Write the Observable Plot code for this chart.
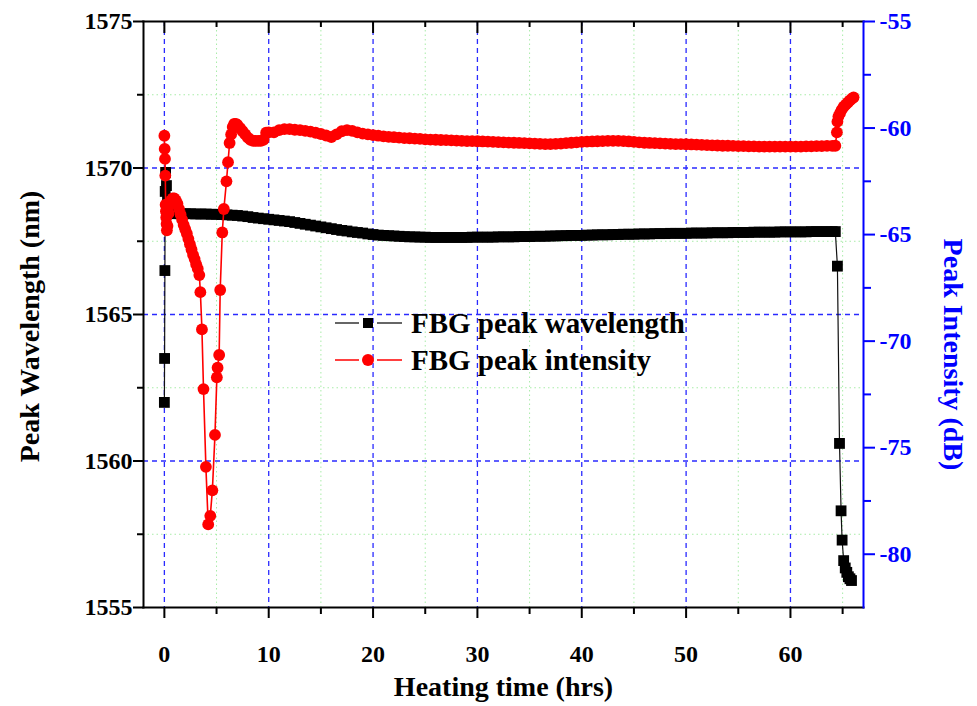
<!DOCTYPE html>
<html><head><meta charset="utf-8">
<script src="https://cdn.jsdelivr.net/npm/d3@7"></script>
<script src="https://cdn.jsdelivr.net/npm/@observablehq/plot@0.6"></script>
<style>
body{margin:0;background:#fff;}
#wrap{position:relative;width:977px;height:706px;}
#legend{position:absolute;left:0;top:0;width:977px;height:706px;pointer-events:none;}
</style>
</head><body><div id="wrap"><div id="chart"></div><svg id="legend" width="977" height="706"></svg></div>
<script>
// ---- data ----
const wavelengthHours = [0,0.02,0.05,0.08,0.12,0.2,0.3,0.42,0.6,0.8,
1,1.5,2,2.5,3,3.5,4,4.5,5,5.5,6,6.5,7,7.5,8,8.5,9,9.5,10,10.5,11,11.5,12,12.5,13,13.5,14,14.5,15,15.5,16,16.5,17,17.5,18,18.5,19,19.5,20,20.5,21,21.5,22,22.5,23,23.5,24,24.5,25,25.5,26,26.5,27,27.5,28,28.5,29,29.5,30,30.5,31,31.5,32,32.5,33,33.5,34,34.5,35,35.5,36,36.5,37,37.5,38,38.5,39,39.5,40,40.5,41,41.5,42,42.5,43,43.5,44,44.5,45,45.5,46,46.5,47,47.5,48,48.5,49,49.5,50,50.5,51,51.5,52,52.5,53,53.5,54,54.5,55,55.5,56,56.5,57,57.5,58,58.5,59,59.5,60,60.5,61,61.5,62,62.5,63,63.5,64,64.3,
64.5,64.7,64.85,64.95,65.1,65.25,65.4,65.55,65.7,65.85];
const wavelengthNm = [1562.0,1563.5,1566.5,1569.2,1569.85,1569.4,1568.9,1568.6,1568.47,1568.45,
1568.44,1568.44,1568.44,1568.44,1568.43,1568.43,1568.43,1568.42,1568.42,1568.41,1568.40,1568.39,1568.38,1568.36,1568.34,1568.31,1568.29,1568.27,1568.25,1568.23,1568.21,1568.19,1568.17,1568.14,1568.11,1568.08,1568.05,1568.02,1567.99,1567.96,1567.93,1567.90,1567.87,1567.85,1567.82,1567.80,1567.78,1567.75,1567.73,1567.71,1567.70,1567.69,1567.68,1567.67,1567.66,1567.65,1567.65,1567.64,1567.64,1567.63,1567.63,1567.63,1567.63,1567.63,1567.63,1567.63,1567.63,1567.64,1567.64,1567.64,1567.64,1567.64,1567.65,1567.65,1567.65,1567.65,1567.66,1567.66,1567.66,1567.67,1567.67,1567.67,1567.68,1567.68,1567.69,1567.69,1567.70,1567.70,1567.70,1567.71,1567.71,1567.72,1567.72,1567.72,1567.73,1567.73,1567.74,1567.74,1567.74,1567.75,1567.75,1567.75,1567.76,1567.76,1567.76,1567.77,1567.77,1567.77,1567.77,1567.78,1567.78,1567.78,1567.78,1567.79,1567.79,1567.79,1567.79,1567.80,1567.80,1567.80,1567.80,1567.81,1567.81,1567.81,1567.81,1567.81,1567.82,1567.82,1567.82,1567.82,1567.82,1567.82,1567.83,1567.83,1567.83,1567.83,1567.83,1567.83,
1566.65,1560.6,1558.3,1557.3,1556.6,1556.35,1556.2,1556.05,1555.98,1555.92];

const intensityHours = [0,0.03,0.06,0.09,0.12,0.15,0.18,0.21,0.24,0.3,0.4,0.5,0.65,0.8,0.95,1.1,1.25,1.4,1.55,1.7,1.85,2,2.15,2.3,2.45,2.6,2.75,2.9,3.05,3.2,3.35,3.45,3.6,3.75,3.98,4.2,4.4,4.6,4.85,5.03,5.1,5.25,5.35,5.55,5.7,5.95,6.1,6.25,6.4,6.55,6.7,6.85,7,7.25,7.5,7.75,8,8.25,8.5,8.75,9,9.25,9.5,9.75,
10,10.5,11,11.5,12,12.5,13,13.5,14,14.5,15,15.5,16,16.5,17,17.5,18,18.5,19,19.5,20,20.5,21,21.5,22,22.5,23,23.5,24,24.5,25,25.5,26,26.5,27,27.5,28,28.5,29,29.5,30,30.5,31,31.5,32,32.5,33,33.5,34,34.5,35,35.5,36,36.5,37,37.5,38,38.5,39,39.5,40,40.5,41,41.5,42,42.5,43,43.5,44,44.5,45,45.5,46,46.5,47,47.5,48,48.5,49,49.5,50,50.5,51,51.5,52,52.5,53,53.5,54,54.5,55,55.5,56,56.5,57,57.5,58,58.5,59,59.5,60,60.5,61,61.5,62,62.5,63,63.5,64,64.3,
64.45,64.5,64.6,64.75,64.9,65.1,65.3,65.5,65.7,65.9,66.05];
const intensityDb = [-60.36,-60.98,-61.45,-62.23,-63.6,-63.9,-64.2,-64.5,-64.8,-64.6,-64.0,-63.6,-63.4,-63.3,-63.3,-63.4,-63.55,-63.8,-64.05,-64.3,-64.55,-64.75,-64.95,-65.2,-65.45,-65.7,-65.95,-66.15,-66.4,-66.6,-66.9,-67.7,-69.45,-72.25,-75.9,-78.6,-78.2,-77.0,-74.4,-71.7,-71.25,-70.65,-67.6,-64.9,-63.8,-62.5,-61.6,-60.7,-60.3,-59.95,-59.8,-59.8,-59.85,-60.0,-60.15,-60.3,-60.45,-60.55,-60.6,-60.6,-60.6,-60.6,-60.55,-60.22,
-60.2,-60.2,-60.1,-60.05,-60.05,-60.08,-60.1,-60.13,-60.17,-60.22,-60.28,-60.35,-60.42,-60.3,-60.15,-60.1,-60.13,-60.2,-60.26,-60.3,-60.33,-60.36,-60.39,-60.41,-60.43,-60.45,-60.47,-60.48,-60.5,-60.51,-60.53,-60.54,-60.55,-60.56,-60.57,-60.58,-60.59,-60.6,-60.61,-60.61,-60.62,-60.63,-60.64,-60.65,-60.66,-60.67,-60.68,-60.69,-60.7,-60.71,-60.72,-60.73,-60.74,-60.75,-60.75,-60.74,-60.73,-60.71,-60.69,-60.67,-60.65,-60.64,-60.63,-60.62,-60.61,-60.6,-60.6,-60.6,-60.61,-60.63,-60.65,-60.67,-60.69,-60.7,-60.71,-60.72,-60.73,-60.74,-60.75,-60.75,-60.76,-60.77,-60.78,-60.79,-60.8,-60.81,-60.82,-60.83,-60.83,-60.84,-60.85,-60.85,-60.86,-60.86,-60.87,-60.87,-60.87,-60.87,-60.87,-60.87,-60.87,-60.87,-60.87,-60.86,-60.86,-60.85,-60.85,-60.84,-60.84,-60.83,
-60.2,-59.7,-59.45,-59.3,-59.15,-59.0,-58.9,-58.8,-58.7,-58.62,-58.56];

const xTicks = [0,10,20,30,40,50,60];
const xMinorTicks = [5,15,25,35,45,55,65];
const leftTicks = [1555,1560,1565,1570,1575];
const leftMinorTicks = [1557.5,1562.5,1567.5,1572.5];
const rightTicks = [-55,-60,-65,-70,-75,-80];
const rightMinorTicks = [-57.5,-62.5,-67.5,-72.5,-77.5];
const xDomain = [-2, 67];
const leftDomain = [1555, 1575];
const rightDomain = [-82.5, -55];
const seriesNames = ["FBG peak wavelength", "FBG peak intensity"];
const titles = {x: "Heating time (hrs)", left: "Peak Wavelength (nm)", right: "Peak Intensity (dB)"};

// ---- build ----
const k = (leftDomain[1]-leftDomain[0])/(rightDomain[1]-rightDomain[0]);
const toLeft = v => leftDomain[0] + (v - rightDomain[0]) * k;
const fromLeft = v => rightDomain[0] + (v - leftDomain[0]) / k;

const wl = wavelengthHours.map((t,i)=>({t, v: wavelengthNm[i]}));
const inten = intensityHours.map((t,i)=>({t, v: intensityDb[i]}));

const W = 977, H = 706, mL = 143, mR = 114, mT = 21, mB = 99;
const frameH = H - mT - mB;
const FONT = "'Liberation Serif','Times New Roman',serif";
const BLUE = "#0000ff";
const gridBlue = {stroke: "#2a2aff", strokeOpacity: 1, strokeWidth: 1.3, strokeDasharray: "5,4"};
const gridGreen = {stroke: "#a8eca8", strokeOpacity: 1, strokeWidth: 1, strokeDasharray: "1.5,3"};

const chart = Plot.plot({
  width: W, height: H,
  marginLeft: mL, marginRight: mR, marginTop: mT, marginBottom: mB,
  x: {domain: xDomain},
  y: {domain: leftDomain},
  style: {fontFamily: FONT, fontWeight: "bold", fontSize: "24px", background: "white", color: "black", overflow: "visible"},
  marks: [
    Plot.gridX(xMinorTicks, gridGreen),
    Plot.gridY(leftMinorTicks, gridGreen),
    Plot.gridX(xTicks, gridBlue),
    Plot.gridY(leftTicks.filter(d => d > leftDomain[0] && d < leftDomain[1]), gridBlue),
    Plot.line(wl, {x: "t", y: "v", stroke: "#111", strokeWidth: 1.2}),
    Plot.dot(wl, {x: "t", y: "v", symbol: "square", r: 6.1, fill: "black"}),
    Plot.line(inten, {x: "t", y: d => toLeft(d.v), stroke: "red", strokeWidth: 1.6}),
    Plot.dot(inten, {x: "t", y: d => toLeft(d.v), r: 5.9, fill: "red"}),
    // frame sides
    Plot.frame({anchor: "left", stroke: "black", strokeWidth: 2}),
    Plot.frame({anchor: "bottom", stroke: "black", strokeWidth: 2}),
    Plot.frame({anchor: "top", stroke: "black", strokeWidth: 2}),
    Plot.frame({anchor: "right", stroke: BLUE, strokeWidth: 2}),
    // top inward ticks
    Plot.tickX(xTicks, {x: d => d, insetBottom: frameH - 12, stroke: "black", strokeWidth: 2}),
    Plot.tickX(xMinorTicks, {x: d => d, insetBottom: frameH - 6, stroke: "black", strokeWidth: 2}),
    // bottom axis
    Plot.axisX(xTicks, {anchor: "bottom", tickSize: 11, tickPadding: 26, fontSize: 24, fontWeight: "bold", strokeWidth: 2, label: null, tickFormat: d => String(d)}),
    Plot.axisX(xMinorTicks, {anchor: "bottom", tickSize: 7, tickFormat: () => "", strokeWidth: 2, label: null}),
    // left axis
    Plot.axisY(leftTicks, {anchor: "left", tickSize: 10, tickPadding: 1, fontSize: 24, fontWeight: "bold", strokeWidth: 2, label: null, tickFormat: d => String(d)}),
    Plot.axisY(leftMinorTicks, {anchor: "left", tickSize: 6, tickFormat: () => "", strokeWidth: 2, label: null}),
    // right axis (dB)
    Plot.axisY(rightTicks.map(toLeft), {anchor: "right", tickSize: 11, tickPadding: 5, fontSize: 24, fontWeight: "bold", color: BLUE, strokeWidth: 2, label: null,
      tickFormat: d => String(Math.round(fromLeft(d)))}),
    Plot.axisY(rightMinorTicks.map(toLeft), {anchor: "right", tickSize: 7, tickFormat: () => "", color: BLUE, strokeWidth: 2, label: null}),
    // axis titles
    Plot.text([titles.x], {frameAnchor: "bottom", dy: 88, fontSize: 28, fontWeight: "bold", fill: "black", textAnchor: "middle"}),
    Plot.text([titles.left], {frameAnchor: "left", dx: -113, dy: 12, rotate: -90, textAnchor: "middle", fontSize: 28, fontWeight: "bold", fill: "black"}),
    Plot.text([titles.right], {frameAnchor: "right", dx: 89, dy: 40, rotate: 90, textAnchor: "middle", fontSize: 28, fontWeight: "bold", fill: BLUE})
  ]
});
document.getElementById("chart").appendChild(chart);

// ---- legend ----
const lg = d3.select("#legend");
const rows = [
  {name: seriesNames[0], color: "black", line: "#333", sym: "square", y: 323},
  {name: seriesNames[1], color: "red", line: "red", sym: "circle", y: 360}
];
rows.forEach(r => {
  lg.append("line").attr("x1", 335).attr("x2", 359).attr("y1", r.y).attr("y2", r.y).attr("stroke", r.line).attr("stroke-width", 1.5);
  lg.append("line").attr("x1", 377).attr("x2", 402).attr("y1", r.y).attr("y2", r.y).attr("stroke", r.line).attr("stroke-width", 1.5);
  if (r.sym === "square") lg.append("rect").attr("x", 363).attr("y", r.y - 5).attr("width", 10).attr("height", 10).attr("fill", r.color);
  else lg.append("circle").attr("cx", 368).attr("cy", r.y).attr("r", 6).attr("fill", r.color);
  lg.append("text").attr("x", 411).attr("y", r.y).attr("dy", "0.35em").attr("font-family", FONT).attr("font-weight", "bold").attr("font-size", 29).attr("fill", "black").text(r.name);
});
</script>
</body></html>
